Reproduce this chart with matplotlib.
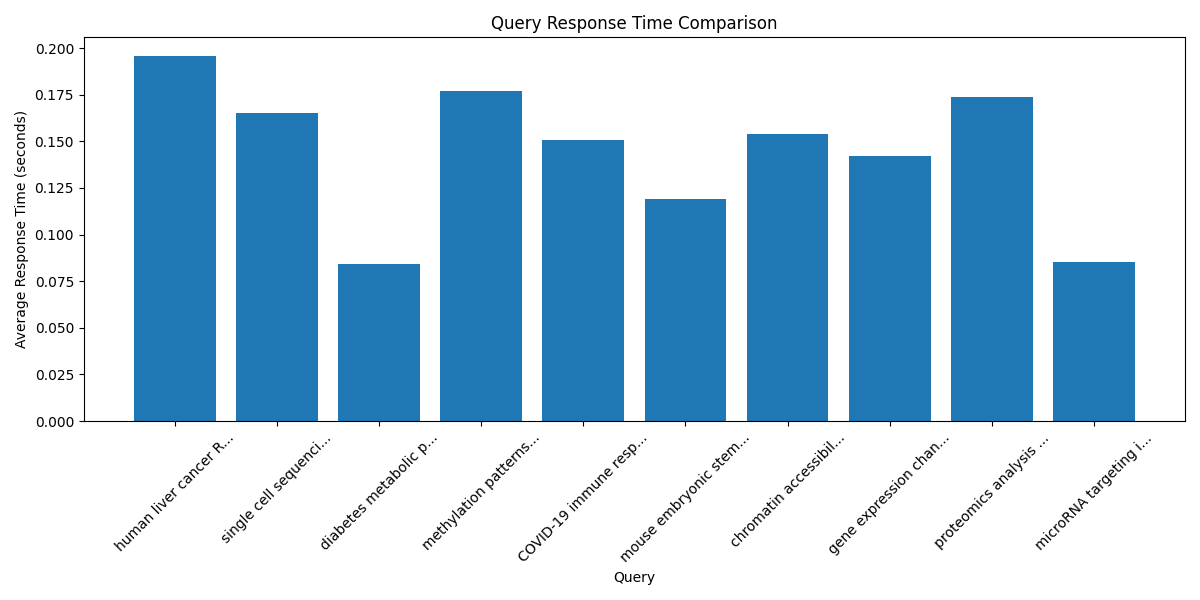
import matplotlib
matplotlib.use("Agg")
import matplotlib.pyplot as plt

labels = ["human liver cancer R...", "single cell sequenci...", "diabetes metabolic p...",
          "methylation patterns...", "COVID-19 immune resp...", "mouse embryonic stem...",
          "chromatin accessibil...", "gene expression chan...", "proteomics analysis ...",
          "microRNA targeting i..."]
values = [0.196, 0.165, 0.084, 0.177, 0.151, 0.119, 0.154, 0.142, 0.174, 0.0855]

fig, ax = plt.subplots(figsize=(12, 6), dpi=100)
ax.bar(labels, values, color="#1f77b4")
ax.set_title("Query Response Time Comparison")
ax.set_xlabel("Query")
ax.set_ylabel("Average Response Time (seconds)")
plt.xticks(rotation=45)
plt.tight_layout()
plt.savefig("out.png")
